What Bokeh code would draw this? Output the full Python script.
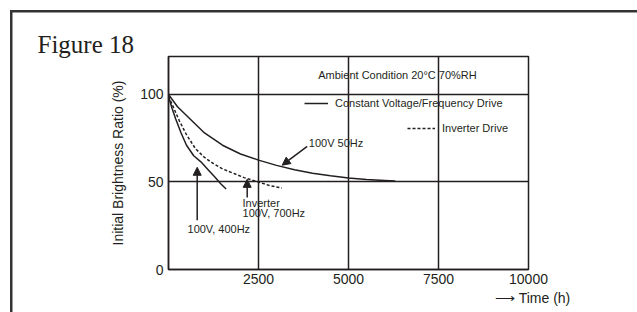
from bokeh.plotting import figure
from bokeh.models import (Range1d, FixedTicker, Label, Arrow, NormalHead, Legend, LegendItem, Title)
from bokeh.embed import file_html
from bokeh.resources import INLINE

# ---- data ----
hz50_x = [0, 250, 500, 1000, 1500, 2000, 2500, 3000, 3500, 4000, 4500, 5000, 5500, 6000, 6300]
hz50_y = [100, 93, 88, 78, 71, 66, 62.5, 59.5, 57, 55, 53.5, 52.3, 51.4, 50.9, 50.6]

hz400_x = [0, 100, 200, 350, 500, 700, 900, 1100, 1300, 1450, 1600]
hz400_y = [99, 92, 86, 78, 71, 65, 61.5, 57, 52.5, 49, 46]

inv_x = [0, 150, 300, 500, 750, 1000, 1250, 1500, 1800, 2100, 2500, 2800, 3150]
inv_y = [99, 92, 85, 77, 69, 64, 60.5, 57.5, 55, 52.5, 50, 48, 46.5]

x_ticks = [2500, 5000, 7500, 10000]
y_ticks = [0, 50, 100]
x_grid = [2500, 5000, 7500]
y_grid = [50, 100]

INK = "#231f20"
FRAME = "#333333"

p = figure(width=637, height=312, output_backend="svg", toolbar_location=None,
           x_range=Range1d(0, 10000), y_range=Range1d(0, 121.7),
           min_border_left=168, min_border_right=109, min_border_top=56, min_border_bottom=43,
           title=None)
p.background_fill_color = "white"
p.border_fill_alpha = 0
p.outline_line_color = INK
p.outline_line_width = 1.5
# outer decorative frame (top and left edges), painted behind the transparent canvas
p.styles = {
    "background-color": "white",
    "background-image": f"linear-gradient({FRAME}, {FRAME}), linear-gradient({FRAME}, {FRAME})",
    "background-size": "100% 2.5px, 2.5px 100%",
    "background-position": "10px 10px, 10px 10px",
    "background-repeat": "no-repeat",
}

# titles
p.add_layout(Title(text="Figure 18", align="left", offset=-131, standoff=-2,
                   text_font="Liberation Serif", text_font_size="25px",
                   text_font_style="normal", text_color=INK), "above")
p.add_layout(Title(text="\u27f6 Time (h)", align="right", offset=-42, standoff=7,
                   vertical_align="top",
                   text_font="Liberation Sans", text_font_size="14px",
                   text_font_style="normal", text_color=INK), "below")

# axes
for ax in (p.xaxis[0], p.yaxis[0]):
    ax.axis_line_color = INK
    ax.axis_line_width = 1.5
    ax.major_tick_in = 0
    ax.major_tick_out = 0
    ax.minor_tick_in = 0
    ax.minor_tick_out = 0
    ax.major_label_text_font = "Liberation Sans"
    ax.major_label_text_font_size = "14px"
    ax.major_label_text_color = INK
p.xaxis.ticker = FixedTicker(ticks=x_ticks)
p.yaxis.ticker = FixedTicker(ticks=y_ticks)
p.xaxis.major_label_standoff = 4
p.yaxis.major_label_standoff = 5
p.yaxis.axis_label = "Initial Brightness Ratio (%)"
p.yaxis.axis_label_text_font = "Liberation Sans"
p.yaxis.axis_label_text_font_size = "14px"
p.yaxis.axis_label_text_font_style = "normal"
p.yaxis.axis_label_text_color = INK
p.yaxis.axis_label_standoff = 11

# grid
p.xgrid.ticker = FixedTicker(ticks=x_grid)
p.ygrid.ticker = FixedTicker(ticks=y_grid)
for g in (p.xgrid[0], p.ygrid[0]):
    g.grid_line_color = INK
    g.grid_line_width = 1.5
    g.grid_line_alpha = 1

# curves
r_cv = p.line(hz50_x, hz50_y, line_color=INK, line_width=1.5)
p.line(hz400_x, hz400_y, line_color=INK, line_width=1.5)
r_inv = p.line(inv_x, inv_y, line_color=INK, line_width=1.5, line_dash="3 2")

# legends (two separate rows as in the reference)
def make_legend(label, rend, loc, gw):
    lg = Legend(items=[LegendItem(label=label, renderers=[rend])], location=loc,
                padding=0, margin=0, spacing=0, border_line_alpha=0,
                background_fill_alpha=0, glyph_width=gw, glyph_height=12,
                label_height=12, label_standoff=7,
                label_text_font="Liberation Sans", label_text_font_size="11px",
                label_text_color=INK)
    p.add_layout(lg, "center")

make_legend("Constant Voltage/Frequency Drive", r_cv, (136, 160), 24)
make_legend("Inverter Drive", r_inv, (239, 135), 28)

def lab(x, y, t, size="11px", align="left", font="Liberation Sans", baseline="middle", color=INK):
    p.add_layout(Label(x=x, y=y, text=t, text_font=font, text_font_size=size,
                       text_align=align, text_baseline=baseline, text_color=color))

lab(6361, 111.0, "Ambient Condition 20\u00b0C 70%RH", align="center")
lab(3898, 72.3, "100V 50Hz")
lab(528, 22.9, "100V, 400Hz")
lab(2056, 37.8, "Inverter")
lab(2056, 32.1, "100V, 700Hz")

def arrow(x0, y0, x1, y1):
    end = NormalHead(size=8, fill_color=INK, line_color=INK, line_width=1)
    p.add_layout(Arrow(x_start=x0, y_start=y0, x_end=x1, y_end=y1, end=end,
                       line_color=INK, line_width=1.5))

arrow(3853, 70.4, 3158, 59.6)
arrow(797, 28.1, 797, 58.4)
arrow(2186, 41.2, 2186, 51.5)

open("out.html", "w").write(file_html(p, INLINE))
